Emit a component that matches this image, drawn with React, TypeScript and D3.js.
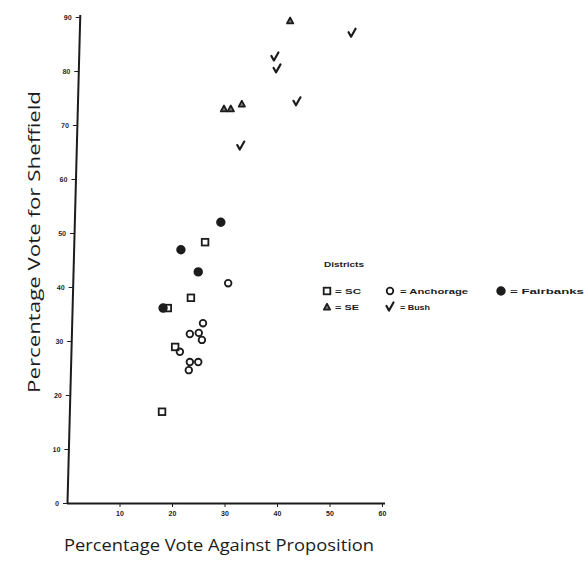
import React, { useEffect, useRef } from "react";
import * as d3 from "d3";

// Data: [percentage vote against proposition, percentage vote for Sheffield]
const scPoints: [number, number][] = [
  [26.3, 48.3], [23.6, 38.0], [19.2, 36.1], [18.1, 16.9], [20.6, 28.9],
];
const anchoragePoints: [number, number][] = [
  [30.7, 40.7], [25.9, 33.3], [23.4, 31.3], [25.1, 31.5], [25.7, 30.2],
  [21.5, 28.0], [23.4, 26.1], [25.0, 26.1], [23.2, 24.6],
];
const fairbanksPoints: [number, number][] = [
  [29.3, 52.0], [21.7, 46.9], [25.0, 42.8], [18.3, 36.1],
];
const sePoints: [number, number][] = [
  [29.9, 73.0], [31.2, 73.0], [33.3, 73.9], [42.5, 89.3],
];
const bushPoints: [number, number][] = [
  [54.3, 87.0], [39.6, 82.6], [40.0, 80.4], [43.8, 74.3], [33.1, 66.1],
];
const xTicks = [10, 20, 30, 40, 50, 60];
const yTicks = [0, 10, 20, 30, 40, 50, 60, 70, 80, 90];

const W = 588, H = 563;
const X0 = 67, Y0 = 503;
const x = d3.scaleLinear().domain([0, 60]).range([X0, X0 + 315]);
const y = d3.scaleLinear().domain([0, 90]).range([Y0, Y0 - 486]);
const yLocal = d3.scaleLinear().domain([0, 90]).range([0, -486]);
const INK = "#1c1c1c";

function Square({ cx, cy, filled = false }: { cx: number; cy: number; filled?: boolean }) {
  return <rect x={cx - 3.3} y={cy - 3.3} width={6.6} height={6.6} fill={filled ? INK : "none"} stroke={INK} strokeWidth={1.8} />;
}
function Circle({ cx, cy, filled = false }: { cx: number; cy: number; filled?: boolean }) {
  return <circle cx={cx} cy={cy} r={filled ? 3.8 : 3.3} fill={filled ? INK : "none"} stroke={INK} strokeWidth={1.8} />;
}
function Tri({ cx, cy }: { cx: number; cy: number }) {
  return <path d={`M${cx},${cy - 3.3} L${cx + 3.2},${cy + 2.6} L${cx - 3.2},${cy + 2.6} Z`} fill="#777" stroke={INK} strokeWidth={1.7} strokeLinejoin="round" />;
}
function Check({ cx, cy }: { cx: number; cy: number }) {
  return <path d={`M${cx - 3.5},${cy - 1} L${cx - 1},${cy + 3.5} L${cx + 3.5},${cy - 4.5}`} fill="none" stroke={INK} strokeWidth={2.2} strokeLinecap="round" strokeLinejoin="round" />;
}

export default function App() {
  const xAxisRef = useRef<SVGGElement>(null);
  const yAxisRef = useRef<SVGGElement>(null);

  useEffect(() => {
    const gx = d3.select(xAxisRef.current!);
    gx.selectAll("*").remove();
    gx.call(d3.axisBottom(x).tickValues(xTicks).tickSize(4).tickSizeOuter(0).tickFormat(d3.format("d")) as any);
    gx.select(".domain").attr("stroke", INK).attr("stroke-width", 2).attr("d", `M${X0},0.5H${x(60) + 3}`);
    gx.selectAll(".tick line").attr("stroke", INK).attr("stroke-width", 1);
    gx.selectAll(".tick text").attr("fill", INK).attr("font-size", 7).attr("font-weight", "bold")
      .attr("font-family", "Liberation Sans, Arial, sans-serif").attr("dy", "0.9em");

    const gy = d3.select(yAxisRef.current!);
    gy.selectAll("*").remove();
    gy.call(d3.axisLeft(yLocal).tickValues(yTicks).tickSize(4).tickSizeOuter(0).tickFormat(d3.format("d")) as any);
    gy.select(".domain").attr("stroke", INK).attr("stroke-width", 2).attr("d", `M0.5,0V${yLocal(90) - 2}`);
    gy.selectAll(".tick line").attr("stroke", INK).attr("stroke-width", 1);
    gy.selectAll(".tick text").attr("fill", INK).attr("font-size", 7).attr("font-weight", "bold")
      .attr("font-family", "Liberation Sans, Arial, sans-serif").attr("x", -8);
  }, []);

  const legFont = { fontFamily: "Liberation Sans, Arial, sans-serif", fontSize: 7.5, fontWeight: "bold" as const, fill: INK };

  return (
    <svg width={W} height={H} style={{ position: "absolute", left: 0, top: 0, background: "#fff" }}>
      <rect width={W} height={H} fill="#fff" />
      <g ref={xAxisRef} transform={`translate(0,${Y0})`} />
      <g ref={yAxisRef} transform={`translate(${X0},${Y0}) skewX(-1.5)`} />

      {scPoints.map((d, i) => <Square key={`sc${i}`} cx={x(d[0])} cy={y(d[1])} />)}
      {anchoragePoints.map((d, i) => <Circle key={`an${i}`} cx={x(d[0])} cy={y(d[1])} />)}
      {fairbanksPoints.map((d, i) => <Circle key={`fb${i}`} cx={x(d[0])} cy={y(d[1])} filled />)}
      {sePoints.map((d, i) => <Tri key={`se${i}`} cx={x(d[0])} cy={y(d[1])} />)}
      {bushPoints.map((d, i) => <Check key={`bu${i}`} cx={x(d[0])} cy={y(d[1])} />)}

      {/* legend */}
      <text x={324} y={267} {...legFont} textLength={40} lengthAdjust="spacingAndGlyphs">Districts</text>
      <Square cx={327} cy={291} />
      <text x={335} y={294} {...legFont} textLength={26} lengthAdjust="spacingAndGlyphs">= SC</text>
      <Circle cx={390} cy={291} />
      <text x={400} y={294} {...legFont} textLength={68} lengthAdjust="spacingAndGlyphs">= Anchorage</text>
      <Circle cx={501} cy={291} filled />
      <text x={510} y={294} {...legFont} textLength={74} lengthAdjust="spacingAndGlyphs">= Fairbanks</text>
      <Tri cx={327} cy={307} />
      <text x={335} y={310} {...legFont} textLength={24} lengthAdjust="spacingAndGlyphs">= SE</text>
      <Check cx={390} cy={307} />
      <text x={400} y={310} {...legFont} textLength={30} lengthAdjust="spacingAndGlyphs">= Bush</text>

      {/* axis titles */}
      <text x={64} y={551} fontFamily="Open Sans, sans-serif" fontSize={16.5} fill={INK} textLength={310} lengthAdjust="spacingAndGlyphs">
        Percentage Vote Against Proposition
      </text>
      <text transform="translate(40,393) rotate(-90)" fontFamily="Open Sans, sans-serif" fontSize={17} fill={INK} textLength={302} lengthAdjust="spacingAndGlyphs">
        Percentage Vote for Sheffield
      </text>
    </svg>
  );
}
